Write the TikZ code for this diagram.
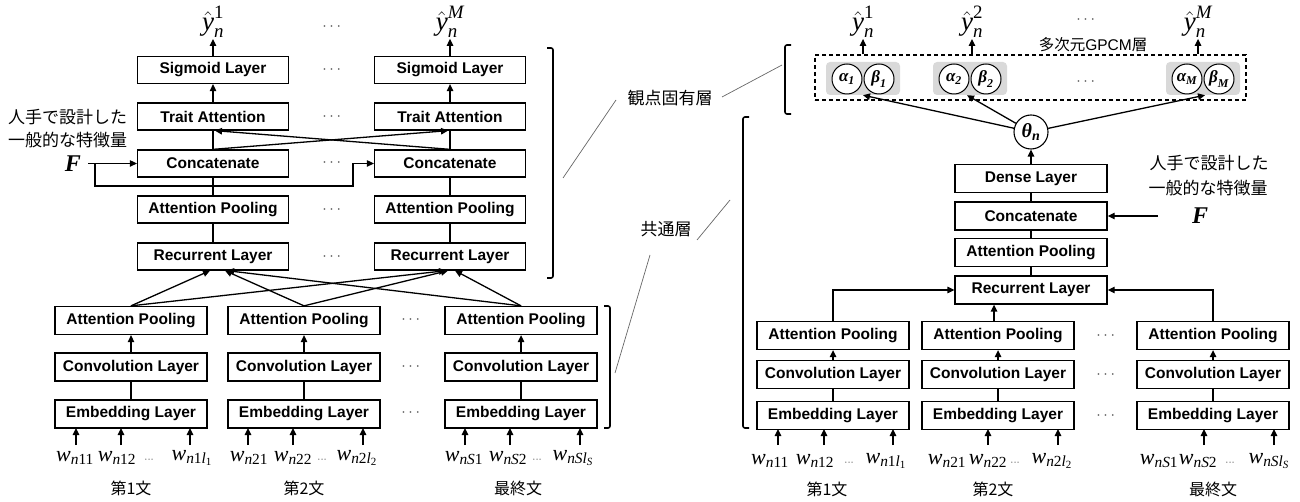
\documentclass[tikz,border=0pt]{standalone}
\usepackage{fix-cm}
\usepackage{amsmath}
\usepackage{fontspec}
\setmainfont{Liberation Sans}
\newfontfamily\jp{Noto Sans CJK JP}
\newfontfamily\tms{Liberation Serif}
\newcommand\ti[1]{\text{\tms\itshape #1}}
\newcommand\tu[1]{\text{\tms #1}}
\newcommand\tb[1]{\text{\tms\bfseries\itshape #1}}
\usetikzlibrary{arrows.meta}
\tikzset{
  layer/.style={draw, line width=1.3pt, minimum width=151pt, minimum height=27pt, inner sep=0pt,
    font=\fontsize{15.5}{18}\selectfont\bfseries},
  lbox/.style={layer, minimum width=152pt, minimum height=28pt},
  arr/.style={-{Triangle[length=7pt,width=6.5pt]}, line width=1.3pt},
  ln/.style={line width=1.3pt},
  ptr/.style={gray!80!black, line width=0.7pt},
  brk/.style={line width=1.6pt, rounded corners=2pt},
  wl/.style={font=\fontsize{22}{26}\selectfont, inner sep=0pt},
  yl/.style={font=\fontsize{27}{30}\selectfont, inner sep=1pt},
  fl/.style={font=\fontsize{24}{28}\selectfont, inner sep=1pt},
  jl/.style={font=\jp\fontsize{17}{20}\selectfont, inner sep=0pt},
  jls/.style={font=\jp\fontsize{16}{19}\selectfont, inner sep=0pt},
  dts/.style={font=\fontsize{16}{18}\selectfont, inner sep=0pt, text=black!70},
  circ/.style={draw, circle, fill=white, line width=1pt, minimum size=30pt, inner sep=0pt,
    font=\fontsize{17}{19}\selectfont},
  grp/.style={fill=gray!30, rounded corners=4pt, minimum width=74pt, minimum height=33pt, inner sep=0pt},
}
\begin{document}
\begin{tikzpicture}[x=1pt,y=-1pt]
\useasboundingbox (0,0) rectangle (1300,502);
% ================= LEFT DIAGRAM =================
\foreach \c/\xx in {1/213, M/450}{
  \node[layer] (s\c) at (\xx,70) {Sigmoid Layer};
  \node[layer] (t\c) at (\xx,116.5) {Trait Attention};
  \node[layer] (c\c) at (\xx,163.5) {Concatenate};
  \node[layer] (p\c) at (\xx,209.5) {Attention Pooling};
  \node[layer] (r\c) at (\xx,256.5) {Recurrent Layer};
}
\node[yl] (y1) at (213,22) {$\hat{\ti{y}}_{\ti{n}}^{\tu{1}}$};
\node[yl] (yM) at (450,22) {$\hat{\ti{y}}_{\ti{n}}^{\ti{M}}$};
\foreach \yy in {27,70,117,163,210,257}{ \node[dts] at (333,\yy) {$\cdots$}; }
\foreach \c in {1,M}{
  \draw[arr] (s\c) -- (y\c);
  \draw[arr] (t\c) -- (s\c);
  \draw[ln] (p\c) -- (c\c);
  \draw[ln] (r\c) -- (p\c);
}
\draw[ln] (c1.north) -- (t1.south);
\draw[ln] (cM.north) -- (tM.south);
\draw[arr] (c1.north) -- ([xshift=-2pt]tM.south);
\draw[arr] (cM.north) -- ([xshift=2pt]t1.south);
% F
\node[jl, anchor=west] (jp1a) at (8,117) {人手で設計した};
\node[jl, anchor=west] (jp1b) at (8,140) {一般的な特徴量};
\node[fl] (F1) at (73,163.5) {$\tb{F}$};
\coordinate (f1s) at (88,163.5);
\coordinate (fb) at (95,163.5);
\draw[arr] (f1s) -- (c1.west);
\draw[arr] (fb) |- (353,186) |- (cM.west);
% lower boxes
\foreach \i/\xx in {1/131, 2/304, 3/521}{
  \node[lbox] (la\i) at (\xx,320.5) {Attention Pooling};
  \node[lbox] (lc\i) at (\xx,367) {Convolution Layer};
  \node[lbox] (le\i) at (\xx,414) {Embedding Layer};
  \draw[arr] (lc\i) -- (la\i);
  \draw[ln] (le\i) -- (lc\i);
}
\foreach \yy in {320,367,413}{ \node[dts] at (412,\yy) {$\cdots$}; }
\draw[arr] (la1.north) -- ([xshift=-3pt]r1.south);
\draw[arr] (la1.north) -- ([xshift=-4pt]rM.south);
\draw[arr] (la2.north) -- ([xshift=12pt]r1.south);
\draw[arr] (la2.north) -- ([xshift=-2pt]rM.south);
\draw[arr] (la3.north) -- ([xshift=14pt]r1.south);
\draw[arr] (la3.north) -- ([xshift=5pt]rM.south);
% words
\node[wl] (lw11) at (75,458) {$\ti{w}_{\ti{n}\tu{11}}$};
\node[wl] (lw12) at (117,458) {$\ti{w}_{\ti{n}\tu{12}}$};
\node[dts] at (150,460) {$\scriptstyle\cdots$};
\node[wl] (lw1l) at (192,458) {$\ti{w}_{\ti{n}\tu{1}\ti{l}_{\tu{1}}}$};
\node[wl] (lw21) at (249,458) {$\ti{w}_{\ti{n}\tu{21}}$};
\node[wl] (lw22) at (293,458) {$\ti{w}_{\ti{n}\tu{22}}$};
\node[dts] at (323,460) {$\scriptstyle\cdots$};
\node[wl] (lw2l) at (357,458) {$\ti{w}_{\ti{n}\tu{2}\ti{l}_{\tu{2}}}$};
\node[wl] (lwS1) at (464,458) {$\ti{w}_{\ti{nS}\tu{1}}$};
\node[wl] (lwS2) at (508,458) {$\ti{w}_{\ti{nS}\tu{2}}$};
\node[dts] at (538,460) {$\scriptstyle\cdots$};
\node[wl] (lwSl) at (573,458) {$\ti{w}_{\ti{nSl}_{\ti{S}}}$};
\foreach \ax in {76,121,190,248,293,363,465,510,580}{
  \draw[arr] (\ax,445) -- (\ax,428);
}
\node[jls] (ls1) at (131,488) {第1文};
\node[jls] (ls2) at (304,488) {第2文};
\node[jls] (ls3) at (518,488) {最終文};
% brackets
\draw[brk] (547,48) -- (553,48) -- (553,278) -- (547,278);
\draw[brk] (604,306) -- (610,306) -- (610,428) -- (604,428);
% ================= LABELS =================
\node[jl] (lab1) at (670,98) {観点固有層};
\node[jl] (lab2) at (666,229) {共通層};
\draw[ptr] (563,178) -- (616,100);
\draw[ptr] (722,97) -- (782,65);
\draw[ptr] (615,373) -- (650,255);
\draw[ptr] (697,240) -- (730,200);
% ================= RIGHT DIAGRAM =================
\draw[brk] (791,45) -- (785,45) -- (785,114) -- (791,114);
\draw[brk] (749,117) -- (743,117) -- (743,428) -- (749,428);
\node[draw, dashed, dash pattern=on 4pt off 3pt, line width=1.4pt, minimum width=431pt, minimum height=45pt, inner sep=0pt] (gpcm) at (1030.5,77.5) {};
\node[font=\fontsize{15.5}{18}\selectfont, inner sep=0pt] (gl) at (1093,45) {\jp 多次元\rmfamily GPCM\jp 層};
\node[grp] (g1) at (863,78.5) {};
\node[grp] (g2) at (970,78.5) {};
\node[grp] (gM) at (1203,78.5) {};
\node[circ] (a1) at (847,79) {$\tb{α}_{\tb{1}}$};
\node[circ] (b1) at (879,79) {$\tb{β}_{\tb{1}}$};
\node[circ] (a2) at (954,79) {$\tb{α}_{\tb{2}}$};
\node[circ] (b2) at (986,79) {$\tb{β}_{\tb{2}}$};
\node[circ] (aM) at (1187,79) {$\tb{α}_{\tb{M}}$};
\node[circ] (bM) at (1219,79) {$\tb{β}_{\tb{M}}$};
\node[dts] at (1087,82) {$\cdots$};
\node[yl] (hy1) at (863,22) {$\hat{\ti{y}}_{\ti{n}}^{\tu{1}}$};
\node[yl] (hy2) at (972,22) {$\hat{\ti{y}}_{\ti{n}}^{\tu{2}}$};
\node[yl] (hyM) at (1198,22) {$\hat{\ti{y}}_{\ti{n}}^{\ti{M}}$};
\node[dts] at (1087,20) {$\cdots$};
\foreach \h in {hy1,hy2,hyM}{ \draw[arr] (\h |- gpcm.north) -- (\h); }
\node[circ, minimum size=34pt, line width=1.1pt, font=\fontsize{20}{22}\selectfont] (theta) at (1031,132) {$\tb{θ}_{\tb{n}}$};
\draw[arr] (theta) -- (g1.south);
\draw[arr] (theta) -- ([xshift=-3pt]g2.south);
\draw[arr] (theta) -- ([xshift=2pt]gM.south);
\node[lbox] (rd) at (1031,178.5) {Dense Layer};
\node[lbox] (rcat) at (1031,216) {Concatenate};
\node[lbox] (rap) at (1031,252.5) {Attention Pooling};
\node[lbox] (rrec) at (1031,290) {Recurrent Layer};
\draw[arr] (rd) -- (theta);
\draw[ln] (rcat) -- (rd);
\draw[ln] (rap) -- (rcat);
\draw[ln] (rrec) -- (rap);
\node[jl] (jp2a) at (1209,163) {人手で設計した};
\node[jl] (jp2b) at (1208,188) {一般的な特徴量};
\node[fl] (F2) at (1200,216) {$\tb{F}$};
\coordinate (f2s) at (1158,216);
\draw[arr] (f2s) -- (rcat.east);
\foreach \i/\xx in {1/833, 2/998, 3/1213}{
  \node[lbox] (ra\i) at (\xx,335.5) {Attention Pooling};
  \node[lbox] (rc\i) at (\xx,374.5) {Convolution Layer};
  \node[lbox] (re\i) at (\xx,415.5) {Embedding Layer};
  \draw[arr] (rc\i) -- (ra\i);
  \draw[ln] (re\i) -- (rc\i);
}
\foreach \yy in {336,375,416}{ \node[dts] at (1107,\yy) {$\cdots$}; }
\draw[arr] (ra1.north) |- (rrec.west);
\draw[arr] ([xshift=-4pt]ra2.north) -- ([xshift=-4pt]ra2.north |- rrec.south);
\draw[arr] (ra3.north) |- (rrec.east);
\node[wl] (rw11) at (770,461) {$\ti{w}_{\ti{n}\tu{11}}$};
\node[wl] (rw12) at (815,461) {$\ti{w}_{\ti{n}\tu{12}}$};
\node[dts] at (850,463) {$\scriptstyle\cdots$};
\node[wl] (rw1l) at (886,461) {$\ti{w}_{\ti{n}\tu{1}\ti{l}_{\tu{1}}}$};
\node[wl] (rw21) at (947,461) {$\ti{w}_{\ti{n}\tu{21}}$};
\node[wl] (rw22) at (988,461) {$\ti{w}_{\ti{n}\tu{22}}$};
\node[dts] at (1016,463) {$\scriptstyle\cdots$};
\node[wl] (rw2l) at (1052,461) {$\ti{w}_{\ti{n}\tu{2}\ti{l}_{\tu{2}}}$};
\node[wl] (rwS1) at (1159,461) {$\ti{w}_{\ti{nS}\tu{1}}$};
\node[wl] (rwS2) at (1198,461) {$\ti{w}_{\ti{nS}\tu{2}}$};
\node[dts] at (1231,463) {$\scriptstyle\cdots$};
\node[wl] (rwSl) at (1269,461) {$\ti{w}_{\ti{nSl}_{\ti{S}}}$};
\foreach \ax in {778,824,893,988,1058,1204,1274}{
  \draw[arr] (\ax,445) -- (\ax,429);
}
\node[jls] (rs1) at (827,489) {第1文};
\node[jls] (rs2) at (993,489) {第2文};
\node[jls] (rs3) at (1213,489) {最終文};
\end{tikzpicture}
\end{document}
